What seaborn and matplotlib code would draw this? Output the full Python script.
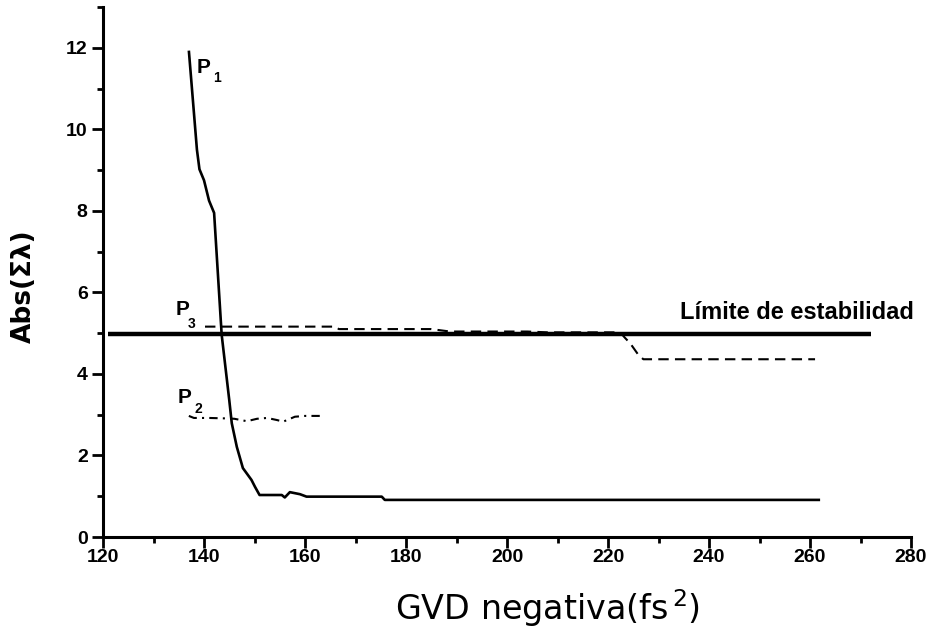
import matplotlib
matplotlib.use("Agg")
import matplotlib.pyplot as plt
from matplotlib.ticker import MultipleLocator
import seaborn as sns

# ---- data ----
p1_x = [137.0, 138.6, 139.1, 140.0, 141.0, 142.0, 143.5, 145.0, 145.5, 146.5,
        147.7, 149.4, 150.1, 151.0, 155.4, 156.0, 157.0, 159.0, 160.3, 175.2,
        175.8, 262.0]
p1_y = [11.93, 9.50, 9.02, 8.75, 8.25, 7.95, 4.96, 3.36, 2.79, 2.21,
        1.69, 1.40, 1.23, 1.03, 1.03, 0.97, 1.10, 1.05, 0.99, 0.99,
        0.91, 0.91]

p2_x = [137.0, 138.0, 141.0, 144.0, 146.0, 148.5, 150.5, 152.5, 154.4, 155.7,
        158.0, 160.0, 163.6]
p2_y = [2.97, 2.92, 2.92, 2.91, 2.90, 2.84, 2.90, 2.92, 2.87, 2.83,
        2.95, 2.97, 2.97]

p3_x = [140.2, 166.0, 166.7, 185.0, 188.7, 204.0, 208.0, 222.4, 223.4, 224.4,
        226.0, 227.0, 261.0]
p3_y = [5.16, 5.16, 5.10, 5.10, 5.04, 5.04, 5.02, 5.02, 4.88, 4.75,
        4.47, 4.36, 4.36]

lim_x = [121.0, 272.0]
lim_y = [4.97, 4.97]

x_ticks = [120, 140, 160, 180, 200, 220, 240, 260, 280]
y_ticks = [0, 2, 4, 6, 8, 10, 12]

# ---- style ----
sns.set_style("ticks")
plt.rcParams["font.family"] = ["Liberation Sans", "DejaVu Sans"]
plt.rcParams["mathtext.fontset"] = "dejavusans"
for k in ["text.color", "axes.labelcolor", "xtick.color", "ytick.color",
          "axes.edgecolor"]:
    plt.rcParams[k] = "black"

fig = plt.figure(figsize=(9.31, 6.34), dpi=100)
ax = fig.add_axes([103 / 931, 1 - 537 / 634, 808 / 931, 530 / 634])

sns.lineplot(x=p1_x, y=p1_y, ax=ax, color="black", lw=1.9, sort=False, estimator=None)
sns.lineplot(x=lim_x, y=lim_y, ax=ax, color="black", lw=3.2, sort=False, estimator=None)
sns.lineplot(x=p3_x, y=p3_y, ax=ax, color="black", lw=1.5, sort=False, estimator=None)
sns.lineplot(x=p2_x, y=p2_y, ax=ax, color="black", lw=1.5, sort=False, estimator=None)
lines = ax.get_lines()
lines[2].set_dashes((5, 3))
lines[3].set_dashes((4, 2.5, 1, 2.5))
for ln in lines:
    ln.set_solid_capstyle("butt")
    ln.set_dash_capstyle("butt")

ax.set_xlim(120, 280)
ax.set_ylim(0, 13)
ax.set_xticks(x_ticks)
ax.set_yticks(y_ticks)
ax.xaxis.set_minor_locator(MultipleLocator(10))
ax.yaxis.set_minor_locator(MultipleLocator(1))

sns.despine(ax=ax)
for s in ["left", "bottom"]:
    ax.spines[s].set_linewidth(2.2)
    ax.spines[s].set_color("black")

ax.tick_params(axis="both", which="major", length=8, width=2, color="black",
               labelcolor="black", labelsize=14, direction="out")
ax.tick_params(axis="both", which="minor", length=4, width=2, color="black",
               direction="out")
ax.tick_params(axis="x", which="major", pad=1)
ax.tick_params(axis="y", which="major", pad=3)
for lab in ax.get_xticklabels() + ax.get_yticklabels():
    lab.set_fontweight("bold")

ax.set_xlabel("")
ax.set_ylabel("")
fig.text(548 / 931, 1 - 620 / 634, "GVD negativa(fs$^{\\,2}$)", fontsize=24,
         family="DejaVu Sans", ha="center", va="baseline")
fig.text(24 / 931, 1 - 286 / 634, "Abs(Σλ)", fontsize=19, fontweight="bold",
         family="DejaVu Sans", rotation=90, ha="center", va="center")

# curve labels
def plabel(x, y, sub, xs, ys):
    ax.text(x, y, "P", fontsize=15, fontweight="bold", ha="left", va="baseline")
    ax.text(xs, ys, sub, fontsize=10, fontweight="bold", ha="left", va="baseline")

plabel(138.55, 11.39, "1", 141.8, 11.17)
plabel(134.46, 5.45, "3", 136.8, 5.13)
plabel(134.7, 3.28, "2", 138.2, 3.04)

ax.text(234.3, 5.35, "Límite de estabilidad", fontsize=17, fontweight="bold",
        ha="left", va="baseline")

fig.savefig("out.png", dpi=100)
